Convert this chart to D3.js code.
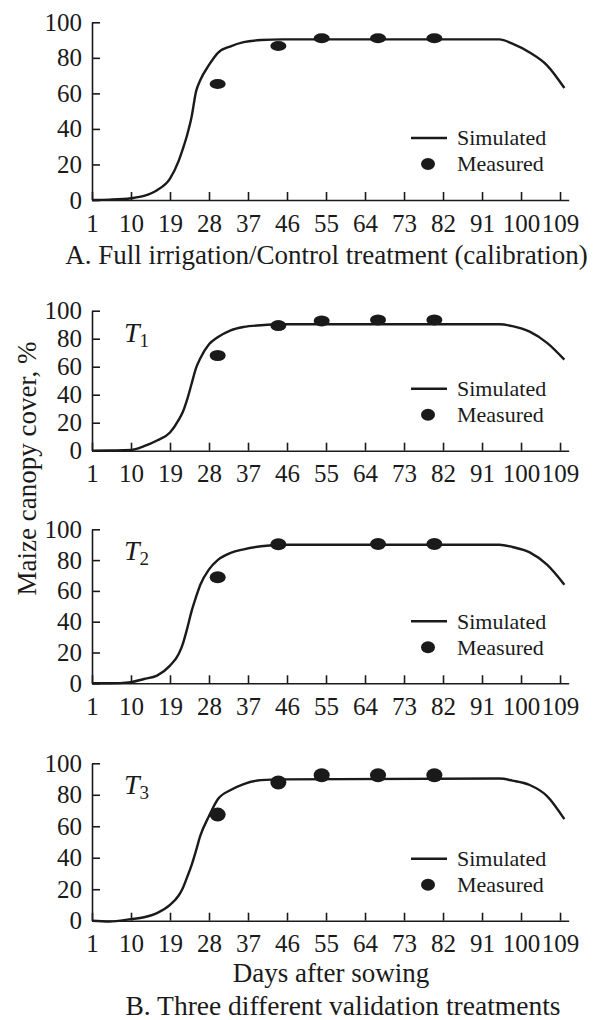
<!DOCTYPE html>
<html><head><meta charset="utf-8">
<script src="https://cdn.jsdelivr.net/npm/d3@7"></script>
<style>
body{margin:0;background:#fff}
svg{display:block}
text{font-family:"Liberation Serif","DejaVu Serif",serif;fill:#1a1a1a}
</style>
</head><body>
<svg id="c" width="600" height="1020"></svg>
<script>
// ---- data ----
const simDays = [1,5,10,13,16,19,21,22,23,24,25,26,28,30,33,36,40,45,95,98,102,106,110];
const simA  = [0,0.2,1,2.3,5.5,12,22,29,37,47,61,67.5,76,82.7,86.5,88.8,90,90.4,90.4,88,83,75.8,63];
const simT1 = [0,0.2,0.5,3.2,7.3,13,22,28,37,48,59,66,76,81,86,88.4,89.6,90.3,90.3,89,85,77,65];
const simT2 = [0,0,0.8,2.8,5,11.5,19,26,36,47,56,64,74,80,84.7,87,89,90,90,88.5,85,77,64];
const simT3 = [0,-0.5,1,2.2,4.8,10,16,21,28,35.5,44.5,54,66.5,77,83,86.8,89.3,89.8,90.3,89,86.2,79.2,64.5];
const measDays = [30,44,54,67,80];
const measA  = [65.3,86.7,91,91,91];
const measT1 = [68,89.4,92.7,93.4,93.4];
const measT2 = [68.8,90.3,null,90.5,90.5];
const measT3 = [67.4,87.8,92.4,92.4,92.4];
const xTicks = [1,10,19,28,37,46,55,64,73,82,91,100,109];
const yTicks = [0,20,40,60,80,100];
const treatSubs = [null,"1","2","3"];
const legendLabels = ["Simulated","Measured"];
const titleA = "A. Full irrigation/Control treatment (calibration)";
const titleB = "B. Three different validation treatments";
const xTitle = "Days after sowing";
const yTitle = "Maize canopy cover, %";

// ---- layout ----
const svg = d3.select("#c");
const ink = "#1a1a1a";
const x = d3.scaleLinear().domain([1,111]).range([92,568.7]);

const panels = [
  {sim:simA,  meas:measA,  top:22.3,  bottom:200,   sub:treatSubs[0], ry:5},
  {sim:simT1, meas:measT1, top:310.7, bottom:450.7, sub:treatSubs[1], ry:5.5},
  {sim:simT2, meas:measT2, top:529.3, bottom:683.3, sub:treatSubs[2], ry:6},
  {sim:simT3, meas:measT3, top:763.3, bottom:920.7, sub:treatSubs[3], ry:7}
];

panels.forEach(p => {
  const y = d3.scaleLinear().domain([0,100]).range([p.bottom,p.top]);
  const g = svg.append("g");

  const xa = g.append("g").attr("transform",`translate(0,${p.bottom})`)
    .call(d3.axisBottom(x).tickValues(xTicks).tickSizeInner(-8).tickSizeOuter(0).tickPadding(14));
  const ya = g.append("g").attr("transform",`translate(${x(1)},0)`)
    .call(d3.axisLeft(y).tickValues(yTicks).tickSizeInner(-8).tickSizeOuter(0).tickPadding(10));
  [xa,ya].forEach(a => {
    a.attr("font-family",null).attr("font-size",null);
    a.selectAll("path,line").attr("stroke",ink).attr("stroke-width",1.6);
    a.selectAll("text").style("font-size","25px").attr("fill",ink);
  });

  const line = d3.line().x((d,i)=>x(simDays[i])).y(d=>y(d)).curve(d3.curveMonotoneX);
  g.append("path").datum(p.sim).attr("d",line)
    .attr("fill","none").attr("stroke",ink).attr("stroke-width",2.4).attr("stroke-linejoin","round");

  g.selectAll("ellipse.m").data(p.meas.map((v,i)=>({d:measDays[i],v})).filter(o=>o.v!==null))
    .enter().append("ellipse").attr("class","m")
    .attr("cx",o=>x(o.d)).attr("cy",o=>y(o.v)).attr("rx",8).attr("ry",p.ry).attr("fill",ink);

  // legend
  const ly1 = p.bottom - 62, ly2 = p.bottom - 36;
  g.append("line").attr("x1",411).attr("x2",447).attr("y1",ly1).attr("y2",ly1)
    .attr("stroke",ink).attr("stroke-width",2.4);
  g.append("ellipse").attr("cx",428).attr("cy",ly2).attr("rx",7).attr("ry",6).attr("fill",ink);
  g.append("text").attr("x",457).attr("y",ly1).attr("dy","0.34em").style("font-size","22px").text(legendLabels[0]);
  g.append("text").attr("x",457).attr("y",ly2).attr("dy","0.34em").style("font-size","22px").text(legendLabels[1]);

  if (p.sub) {
    const t = g.append("text").attr("x",124).attr("y",p.top+31).style("font-size","28px");
    t.append("tspan").style("font-style","italic").text("T");
    t.append("tspan").attr("dy",5).style("font-size","19px").text(p.sub);
  }
});

svg.append("text").attr("x",326.5).attr("y",264).attr("text-anchor","middle").style("font-size","27px").text(titleA);
svg.append("text").attr("x",331).attr("y",982).attr("text-anchor","middle").style("font-size","27px").text(xTitle);
svg.append("text").attr("x",343).attr("y",1015).attr("text-anchor","middle").style("font-size","27.5px").text(titleB);
svg.append("text").attr("transform","translate(36,468.5) rotate(-90)").attr("text-anchor","middle").style("font-size","27px").text(yTitle);
</script>
</body></html>
